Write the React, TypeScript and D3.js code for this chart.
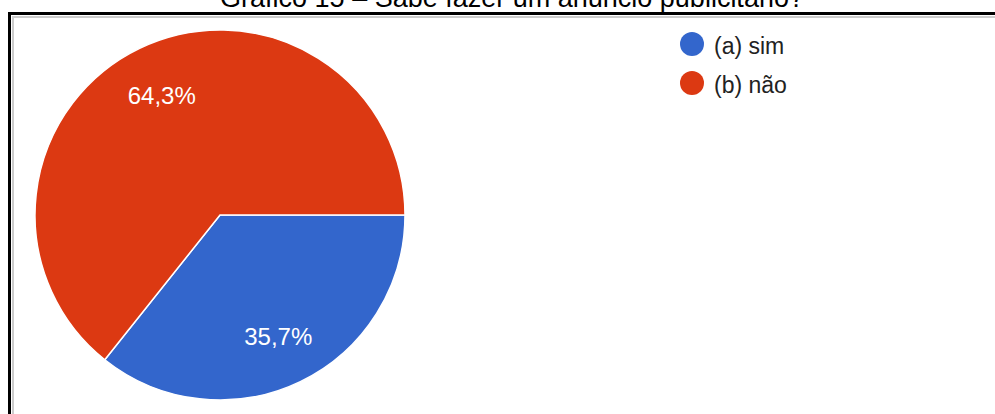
import React from "react";
import * as d3 from "d3";

const categories = ["(a) sim", "(b) não"];
const values = [35.7, 64.3];
const labels = ["35,7%", "64,3%"];
const colors = ["#3366cc", "#dc3912"];
const title = "Gráfico 15 – Sabe fazer um anúncio publicitário?";

export default function App() {
  const W = 995, H = 414;
  const cx = 220, cy = 215, r = 185;
  const pie = d3.pie<number>().sort(null).value(d => d).startAngle(Math.PI / 2).endAngle(Math.PI / 2 + 2 * Math.PI);
  const arcs = pie(values);
  const arc = d3.arc<d3.PieArcDatum<number>>().innerRadius(0).outerRadius(r);
  const labelArc = d3.arc<d3.PieArcDatum<number>>().innerRadius(r * 0.725).outerRadius(r * 0.725);
  return (
    <svg width={W} height={H} style={{ position: "absolute", left: 0, top: 0 }}>
      <rect width={W} height={H} fill="#fff" />
      <text x={512} y={7} textAnchor="middle" fontFamily="Liberation Sans, Arial" fontSize={27} fill="#000">{title}</text>
      <line x1={8} x2={W} y1={13.5} y2={13.5} stroke="#000" strokeWidth={3} />
      <line x1={9.5} x2={9.5} y1={12} y2={H} stroke="#000" strokeWidth={3} />
      <line x1={12} x2={W} y1={17} y2={17} stroke="#cccccc" strokeWidth={2} />
      <line x1={13} x2={13} y1={16} y2={H} stroke="#cccccc" strokeWidth={2} />
      <g transform={`translate(${cx},${cy})`}>
        {arcs.map((a, i) => (
          <path key={i} d={arc(a) || ""} fill={colors[i]} stroke="#fff" strokeWidth={1.5} />
        ))}
        {arcs.map((a, i) => {
          const [x, y] = labelArc.centroid(a);
          return (
            <text key={i} x={x} y={y + 1} textAnchor="middle" dominantBaseline="central" fontFamily="Liberation Sans, Arial" fontSize={24} fill="#fff">{labels[i]}</text>
          );
        })}
      </g>
      {categories.map((c, i) => (
        <g key={c} transform={`translate(692,${44 + i * 39})`}>
          <circle r={12} fill={colors[i]} />
          <text x={22} y={2} dominantBaseline="central" fontFamily="Liberation Sans, Arial" fontSize={23} fill="#222">{c}</text>
        </g>
      ))}
    </svg>
  );
}
